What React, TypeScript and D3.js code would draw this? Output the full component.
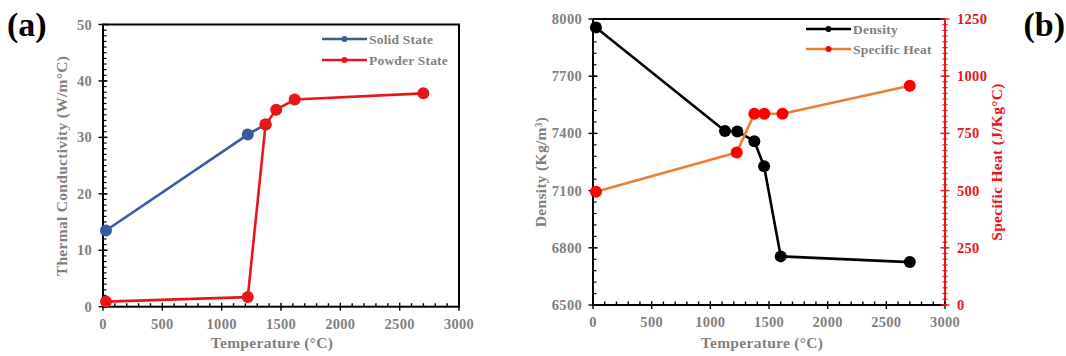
import { useEffect, useRef } from 'react';
import * as d3 from 'd3';

// panel (a): thermal conductivity
const tempTicks = [0, 500, 1000, 1500, 2000, 2500, 3000];
const kTicks = [0, 10, 20, 30, 40, 50];
const solidTemp = [25, 1220, 1370];
const solidK = [13.5, 30.5, 32.3];
const powderTemp = [25, 1220, 1370, 1460, 1615, 2700];
const powderK = [0.9, 1.7, 32.3, 34.9, 36.7, 37.8];

// panel (b): density + specific heat
const densityTicks = [6500, 6800, 7100, 7400, 7700, 8000];
const heatTicks = [0, 250, 500, 750, 1000, 1250];
const densityTemp = [25, 1125, 1230, 1375, 1458, 1600, 2700];
const density = [7955, 7413, 7410, 7359, 7228, 6755, 6725];
const heatTemp = [25, 1225, 1375, 1460, 1615, 2700];
const specificHeat = [495, 667, 836, 836, 836, 958];

const GRAY = '#7f7f7f';
const FONT = '"Liberation Serif", serif';

type Pt = [number, number];

export default function App() {
  const svgRef = useRef<SVGSVGElement>(null);

  useEffect(() => {
    if (!svgRef.current) return;
    const svg = d3.select(svgRef.current);
    svg.selectAll('*').remove();

    const drawSeries = (
      g: d3.Selection<SVGGElement, unknown, null, undefined>,
      pts: Pt[],
      x: d3.ScaleLinear<number, number>,
      y: d3.ScaleLinear<number, number>,
      lineColor: string,
      dotColor: string
    ) => {
      g.append('path')
        .datum(pts)
        .attr('fill', 'none')
        .attr('stroke', lineColor)
        .attr('stroke-width', 2.6)
        .attr('stroke-linejoin', 'round')
        .attr('d', d3.line<Pt>().x((d) => x(d[0])).y((d) => y(d[1])));
      g.selectAll(null)
        .data(pts)
        .enter()
        .append('circle')
        .attr('cx', (d) => x(d[0]))
        .attr('cy', (d) => y(d[1]))
        .attr('r', 6)
        .attr('fill', dotColor);
    };

    const legendRow = (
      x0: number,
      y0: number,
      lineColor: string,
      dotColor: string,
      label: string
    ) => {
      svg.append('line')
        .attr('x1', x0).attr('x2', x0 + 45)
        .attr('y1', y0).attr('y2', y0)
        .attr('stroke', lineColor).attr('stroke-width', 2.6);
      svg.append('circle')
        .attr('cx', x0 + 22.5).attr('cy', y0).attr('r', 3)
        .attr('fill', dotColor);
      svg.append('text')
        .attr('x', x0 + 47).attr('y', y0 + 4.5)
        .attr('font-family', FONT).attr('font-weight', 'bold')
        .attr('font-size', 13.5).attr('letter-spacing', 0.2).attr('fill', GRAY)
        .text(label);
    };

    const xAxis = (
      x: d3.ScaleLinear<number, number>,
      yPos: number
    ) => {
      const minor = d3.range(100, 3000, 100).filter((v) => v % 500 !== 0);
      minor.forEach((v) => {
        svg.append('line')
          .attr('x1', x(v)).attr('x2', x(v))
          .attr('y1', yPos).attr('y2', yPos - 3.5)
          .attr('stroke', '#000').attr('stroke-width', 1.4);
      });
      tempTicks.forEach((v) => {
        svg.append('line')
          .attr('x1', x(v)).attr('x2', x(v))
          .attr('y1', yPos - 4).attr('y2', yPos + 4)
          .attr('stroke', '#000').attr('stroke-width', 1.4);
        svg.append('text')
          .attr('x', x(v)).attr('y', yPos + 22)
          .attr('text-anchor', 'middle')
          .attr('font-family', FONT).attr('font-weight', 'bold')
          .attr('font-size', 14.5).attr('letter-spacing', 0.3).attr('fill', GRAY)
          .text(v);
      });
    };

    const yAxis = (
      y: d3.ScaleLinear<number, number>,
      xPos: number,
      ticks: number[],
      minorStep: number,
      side: 'left' | 'right',
      color: string,
      labelColor: string
    ) => {
      const [lo, hi] = y.domain();
      d3.range(lo, hi, minorStep).forEach((v) => {
        if (side === 'left') {
          svg.append('line')
            .attr('x1', xPos).attr('x2', xPos + 3.5)
            .attr('y1', y(v)).attr('y2', y(v))
            .attr('stroke', color).attr('stroke-width', 1.2);
        } else {
          svg.append('line')
            .attr('x1', xPos - 2.5).attr('x2', xPos + 2.5)
            .attr('y1', y(v)).attr('y2', y(v))
            .attr('stroke', color).attr('stroke-width', 1.2);
        }
      });
      ticks.forEach((v) => {
        svg.append('line')
          .attr('x1', xPos - 4.5).attr('x2', xPos + 4.5)
          .attr('y1', y(v)).attr('y2', y(v))
          .attr('stroke', color).attr('stroke-width', 1.4);
        svg.append('text')
          .attr('x', side === 'left' ? xPos - 11 : xPos + 12)
          .attr('y', y(v) + 5)
          .attr('text-anchor', side === 'left' ? 'end' : 'start')
          .attr('font-family', FONT).attr('font-weight', 'bold')
          .attr('font-size', 14.5).attr('letter-spacing', 0.3).attr('fill', labelColor)
          .text(v);
      });
    };

    const title = (
      text: string,
      cx: number,
      cy: number,
      rotate: boolean,
      color: string
    ) => {
      svg.append('text')
        .attr('transform', `translate(${cx},${cy})${rotate ? ' rotate(-90)' : ''}`)
        .attr('text-anchor', 'middle')
        .attr('dy', '0.35em')
        .attr('font-family', FONT).attr('font-weight', 'bold')
        .attr('font-size', 15.5).attr('letter-spacing', 0.3).attr('fill', color)
        .text(text);
    };

    // ---- panel (a)
    const xa = d3.scaleLinear().domain([0, 3000]).range([103, 459]);
    const ya = d3.scaleLinear().domain([0, 50]).range([306.7, 24.5]);

    svg.append('rect')
      .attr('x', 103).attr('y', 24.5)
      .attr('width', 356).attr('height', 306.7 - 24.5)
      .attr('fill', 'none').attr('stroke', '#000').attr('stroke-width', 2);
    xAxis(xa, 306.7);
    yAxis(ya, 103, kTicks, 1, 'left', '#000', GRAY);

    const ga = svg.append('g');
    drawSeries(ga, solidTemp.map((t, i) => [t, solidK[i]] as Pt), xa, ya, '#3a5aa0', '#3a5aa0');
    drawSeries(ga, powderTemp.map((t, i) => [t, powderK[i]] as Pt), xa, ya, '#e8151b', '#e8151b');

    legendRow(322, 39, '#3a5aa0', '#3a5aa0', 'Solid State');
    legendRow(322, 60, '#e8151b', '#e8151b', 'Powder State');

    title('Temperature (°C)', 272, 343, false, GRAY);
    title('Thermal Conductivity (W/m°C)', 62, 166, true, GRAY);

    svg.append('text')
      .attr('x', 7).attr('y', 36)
      .attr('font-family', '"Liberation Serif", serif').attr('font-weight', 'bold')
      .attr('font-size', 34).attr('fill', '#000')
      .text('(a)');

    // ---- panel (b)
    const xb = d3.scaleLinear().domain([0, 3000]).range([593, 945]);
    const yd = d3.scaleLinear().domain([6500, 8000]).range([305, 19]);
    const yh = d3.scaleLinear().domain([0, 1250]).range([305, 19]);

    svg.append('line')
      .attr('x1', 593).attr('x2', 945).attr('y1', 19).attr('y2', 19)
      .attr('stroke', '#000').attr('stroke-width', 2);
    svg.append('line')
      .attr('x1', 593).attr('x2', 593).attr('y1', 19).attr('y2', 305)
      .attr('stroke', '#000').attr('stroke-width', 2);
    svg.append('line')
      .attr('x1', 593).attr('x2', 945).attr('y1', 305).attr('y2', 305)
      .attr('stroke', '#000').attr('stroke-width', 2);
    svg.append('line')
      .attr('x1', 945).attr('x2', 945).attr('y1', 19).attr('y2', 305)
      .attr('stroke', '#e8151b').attr('stroke-width', 2);

    xAxis(xb, 305);
    yAxis(yd, 593, densityTicks, 60, 'left', '#000', GRAY);
    yAxis(yh, 945, heatTicks, 25, 'right', '#e8151b', '#e8151b');

    const gb = svg.append('g');
    drawSeries(gb, densityTemp.map((t, i) => [t, density[i]] as Pt), xb, yd, '#000', '#000');
    drawSeries(gb, heatTemp.map((t, i) => [t, specificHeat[i]] as Pt), xb, yh, '#ed7d31', '#ff0000');

    legendRow(806, 29, '#000', '#000', 'Density');
    legendRow(806, 49, '#ed7d31', '#ff0000', 'Specific Heat');

    title('Temperature (°C)', 762, 343, false, GRAY);
    title('Density (Kg/m³)', 541, 172, true, GRAY);
    title('Specific Heat (J/Kg°C)', 997, 162, true, '#e8151b');

    svg.append('text')
      .attr('x', 1065).attr('y', 36)
      .attr('text-anchor', 'end')
      .attr('font-family', '"Liberation Serif", serif').attr('font-weight', 'bold')
      .attr('font-size', 34).attr('fill', '#000')
      .text('(b)');
  }, []);

  return (
    <svg
      ref={svgRef}
      width={1066}
      height={356}
      style={{ position: 'absolute', left: 0, top: 0, background: '#fff' }}
    />
  );
}
